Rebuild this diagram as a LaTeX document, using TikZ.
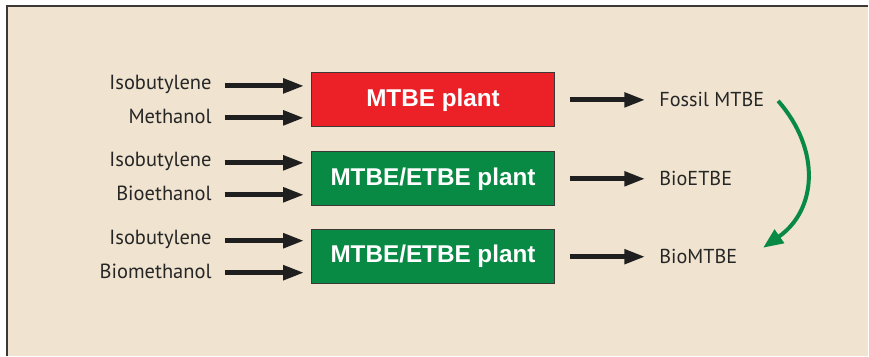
\documentclass[tikz,border=0pt]{standalone}
\usepackage{fontspec}
\setmainfont{PT Sans}
\newfontfamily\boxfont{Liberation Sans}
\usepackage{tikz}
\usetikzlibrary{
    calc,
    arrows.meta,
    positioning
}
\definecolor{panelbg}{RGB}{240,228,208}
\definecolor{plantred}{RGB}{236,32,39}
\definecolor{plantgreen}{RGB}{8,138,68}
\definecolor{edgegrey}{RGB}{60,56,54}
\tikzset{
    feed/.style={anchor=east, font=\fontsize{20.5}{24}\selectfont, text=black!85, inner sep=0pt},
    product/.style={anchor=west, font=\fontsize{20.2}{24}\selectfont, text=black!85, inner sep=0pt},
    plant/.style={draw=edgegrey, line width=1pt, minimum width=243pt, minimum height=54pt,
        text=white, font=\boxfont\bfseries\fontsize{24.3}{28}\selectfont, inner sep=0pt},
    flow/.style={line width=5pt, draw=black!88,
        -{Triangle[length=21pt,width=14pt]}},
    swap/.style={line width=4pt, draw=plantgreen,
        -{Triangle[length=20pt,width=16pt]}}
}
\begin{document}
\begin{tikzpicture}[x=1pt,y=-1pt]
        % panel
        \fill[panelbg] (7,6) rectangle (869,356);
        \draw[line width=2pt, edgegrey] (7,356) -- (7,6) -- (869,6);
        \useasboundingbox (0,0) rectangle (869,356);

        % plants
        \node[plant, fill=plantred]   (mtbe) at (433.5,100) {MTBE plant};
        \node[plant, fill=plantgreen] (etbe) at (433.5,179) {MTBE/ETBE plant};
        \node[plant, fill=plantgreen] (bio)  at (433.5,257) {MTBE/ETBE plant};

        % feeds
        \node[feed] (isoA) at (212,85)  {Isobutylene};
        \node[feed] (meth) at (212,117) {Methanol};
        \node[feed] (isoB) at (212,162) {Isobutylene};
        \node[feed] (eth)  at (212,194) {Bioethanol};
        \node[feed] (isoC) at (212,240) {Isobutylene};
        \node[feed] (bmeth) at (212,272) {Biomethanol};

        % products
        \node[product] (fossil) at (660,100) {Fossil MTBE};
        \node[product] (betbe)  at (660,179) {BioETBE};
        \node[product] (bmtbe)  at (660,257) {BioMTBE};

        \foreach \f/\p in {isoA/mtbe, meth/mtbe, isoB/etbe, eth/etbe, isoC/bio, bmeth/bio}
            \draw[flow, shorten <=13pt, shorten >=7pt] ([yshift=-1pt]\f.east) -- ([yshift=-1pt]\f.east -| \p.west);

        \foreach \p/\q in {mtbe/fossil, etbe/betbe, bio/bmtbe}
            \draw[flow, shorten <=15pt, shorten >=14pt] (\p.east) -- (\q.west);

        \coordinate (swapA) at (779,101);
        \coordinate (swapB) at (764,248);
        \draw[swap] (swapA) .. controls (822,150) and (818,210) .. (swapB);
    \end{tikzpicture}
\end{document}
